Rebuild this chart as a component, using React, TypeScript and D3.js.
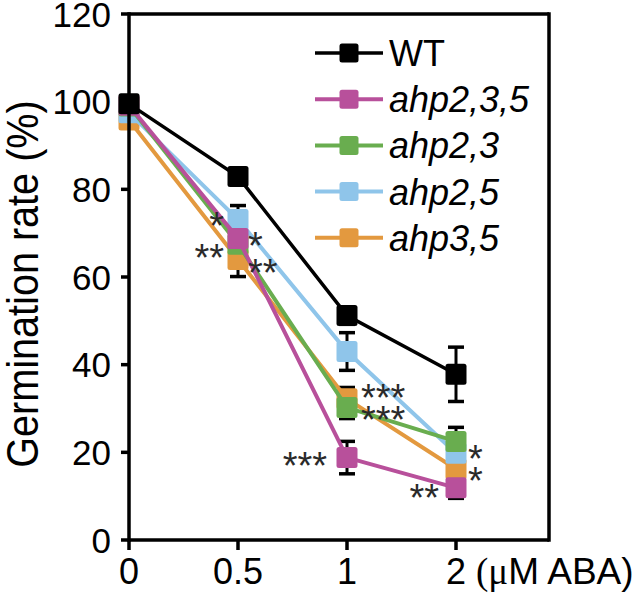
import React from "react";
import * as d3 from "d3";

const doses = ["0", "0.5", "1", "2"];
const yTicks = [0, 20, 40, 60, 80, 100, 120];

const seriesNames = ["WT", "ahp2,3,5", "ahp2,3", "ahp2,5", "ahp3,5"];
const wtValues = [99.5, 82.9, 51.2, 37.8];
const wtErrors = [1, 1.5, 2, 6.2];
const ahp235Values = [99.2, 68.8, 18.8, 11.9];
const ahp235Errors = [1, 3, 3.7, 2.4];
const ahp23Values = [99, 67.5, 30.2, 22.5];
const ahp23Errors = [1, 3, 2.5, 3.2];
const ahp25Values = [97.5, 73.1, 43, 19.8];
const ahp25Errors = [1, 3.2, 4.3, 2];
const ahp35Values = [95.8, 64, 32.2, 16.2];
const ahp35Errors = [1.5, 3.9, 2.6, 2];

const colors: Record<string, string> = {
  WT: "#000000",
  "ahp2,3,5": "#b8509b",
  "ahp2,3": "#69ad4f",
  "ahp2,5": "#8fc5ea",
  "ahp3,5": "#e3993f",
};

// significance marks
const sigDose = [1, 1, 1, 1, 2, 2, 2, 3, 3, 3];
const sigValue = [73.6, 69.0, 66.4, 63.0, 34.5, 29.3, 18.9, 20.5, 15.4, 11.6];
const sigLabel = ["*", "*", "**", "**", "***", "***", "***", "*", "*", "**"];
const sigSide = ["L", "R", "L", "R", "R", "R", "L", "R", "R", "L"];

export default function App() {
  const W = 643, H = 593;
  const x = d3.scalePoint<string>().domain(doses).range([129, 456]).padding(0);
  const y = d3.scaleLinear().domain([0, 120]).range([540, 14]);
  const left = 129, right = 549, top = 14, bottom = 540;

  const data: Record<string, { v: number[]; e: number[] }> = {
    WT: { v: wtValues, e: wtErrors },
    "ahp2,3,5": { v: ahp235Values, e: ahp235Errors },
    "ahp2,3": { v: ahp23Values, e: ahp23Errors },
    "ahp2,5": { v: ahp25Values, e: ahp25Errors },
    "ahp3,5": { v: ahp35Values, e: ahp35Errors },
  };
  const drawOrder = ["ahp3,5", "ahp2,5", "ahp2,3", "ahp2,3,5", "WT"];
  const line = d3
    .line<number>()
    .x((_, i) => x(doses[i]) as number)
    .y((d) => y(d));
  const ms = 21;
  const sans = "'Liberation Sans', Arial, sans-serif";
  const sigFs = 38;

  return (
    <svg width={W} height={H} style={{ position: "absolute", left: 0, top: 0 }}>
      <rect width={W} height={H} fill="#fff" />
      {/* error bars */}
      {drawOrder.map((name) => (
        <g key={"e" + name}>
          {data[name].v.map((v, i) => {
            const cx = x(doses[i]) as number;
            const e = data[name].e[i];
            return (
              <g key={i} stroke="#000">
                <line x1={cx} x2={cx} y1={y(v + e)} y2={y(v - e)} strokeWidth={3} />
                <line x1={cx - 8} x2={cx + 8} y1={y(v + e)} y2={y(v + e)} strokeWidth={3.5} />
                <line x1={cx - 8} x2={cx + 8} y1={y(v - e)} y2={y(v - e)} strokeWidth={3.5} />
              </g>
            );
          })}
        </g>
      ))}
      {/* series */}
      {drawOrder.map((name) => (
        <g key={name}>
          <path d={line(data[name].v) || ""} fill="none" stroke={colors[name]} strokeWidth={name === "WT" ? 3.5 : 4} />
          {data[name].v.map((v, i) => (
            <rect
              key={i}
              x={(x(doses[i]) as number) - ms / 2}
              y={y(v) - ms / 2}
              width={ms}
              height={ms}
              rx={2.5}
              fill={colors[name]}
            />
          ))}
        </g>
      ))}
      {/* frame */}
      <g stroke="#000" strokeWidth={3.5} fill="none">
        <line x1={left} x2={left} y1={top - 1.75} y2={bottom + 1.75} />
        <line x1={left} x2={right} y1={bottom} y2={bottom} />
        <line x1={left} x2={right} y1={top} y2={top} />
        <line x1={right} x2={right} y1={top - 1.75} y2={bottom + 1.75} />
      </g>
      {/* y ticks */}
      {yTicks.map((t) => (
        <g key={t}>
          <line x1={left - 8} x2={left} y1={y(t)} y2={y(t)} stroke="#000" strokeWidth={3.5} />
          <text x={111} y={y(t)} dy="0.36em" textAnchor="end" fontFamily={sans} fontSize={35} fill="#000">
            {t}
          </text>
        </g>
      ))}
      {/* x ticks */}
      {doses.map((d) => (
        <g key={d}>
          <line x1={x(d) as number} x2={x(d) as number} y1={bottom} y2={bottom + 10} stroke="#000" strokeWidth={3.5} />
          <text x={x(d) as number} y={584} textAnchor="middle" fontFamily={sans} fontSize={36} fill="#000">
            {d}
          </text>
        </g>
      ))}
      <text x={476} y={584} fontSize={37} fill="#000">
        <tspan fontFamily="'Liberation Serif', 'Times New Roman', serif">(μ</tspan>
        <tspan fontFamily={sans}>M ABA)</tspan>
      </text>
      {/* y title */}
      <text
        transform={`translate(38, 284) rotate(-90) scale(0.9, 1)`}
        textAnchor="middle"
        fontFamily={sans}
        fontSize={44}
        fill="#000"
      >
        Germination rate (%)
      </text>
      {/* significance */}
      {sigLabel.map((s, k) => {
        const cx = x(doses[sigDose[k]]) as number;
        const cy = y(sigValue[k]);
        const isL = sigSide[k] === "L";
        const offL = sigDose[k] === 1 ? 14 : sigDose[k] === 2 ? 20 : 17;
        const offR = sigDose[k] === 1 ? 10 : sigDose[k] === 2 ? 14 : 12;
        return (
          <text
            key={k}
            x={isL ? cx - offL : cx + offR}
            y={cy + 0.575 * sigFs}
            textAnchor={isL ? "end" : "start"}
            fontFamily={sans}
            fontSize={sigFs}
            fill="#2a2a2a"
          >
            {s}
          </text>
        );
      })}
      {/* legend */}
      {seriesNames.map((name, i) => {
        const ly = 53 + i * 46.2;
        return (
          <g key={"l" + name}>
            <line x1={315} x2={383} y1={ly} y2={ly} stroke={colors[name]} strokeWidth={name === "WT" ? 3.5 : 4} />
            <rect x={349 - 9.5} y={ly - 9.5} width={19} height={19} rx={2.5} fill={colors[name]} />
            <text
              x={389}
              y={ly}
              dy="0.36em"
              fontFamily={sans}
              fontSize={36}
              fontStyle={name === "WT" ? "normal" : "italic"}
              fill="#000"
            >
              {name}
            </text>
          </g>
        );
      })}
    </svg>
  );
}
